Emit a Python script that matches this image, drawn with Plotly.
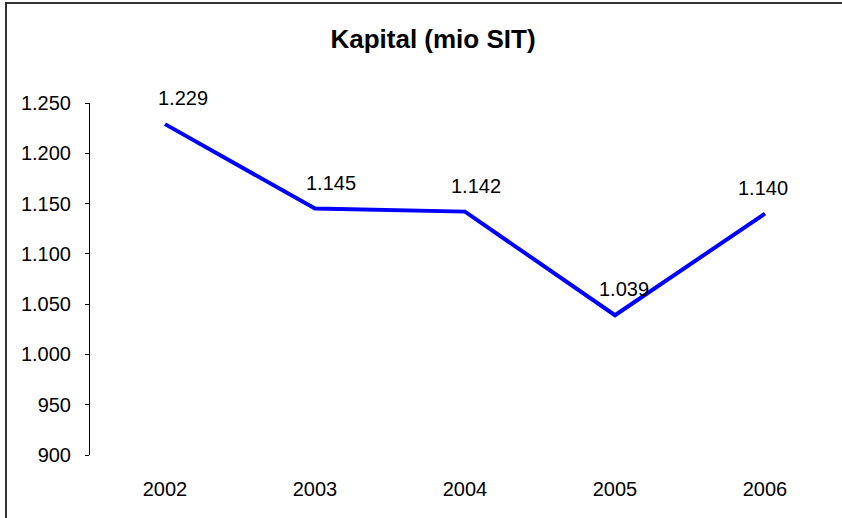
import plotly.graph_objects as go

years = ["2002", "2003", "2004", "2005", "2006"]
kapital = [1229, 1145, 1142, 1039, 1140]
y_ticks = [900, 950, 1000, 1050, 1100, 1150, 1200, 1250]
label_xshift = [18, 16, 11, 9, -2]

W, H = 842, 518
L, R, T, B = 90, 2, 103, 63
pw, ph = W - L - R, H - T - B
FONT = "Liberation Sans, Arial, sans-serif"

fig = go.Figure(go.Scatter(
    x=years, y=kapital, mode="lines",
    line=dict(color="#0000FF", width=4),
    hoverinfo="skip"))

for i, (v, dx) in enumerate(zip(kapital, label_xshift)):
    fig.add_annotation(x=i, y=v, text=f"{v:,}".replace(",", "."), showarrow=False,
                       xref="x", yref="y",
                       xanchor="center", yanchor="middle", xshift=dx, yshift=26,
                       font=dict(family=FONT, size=20, color="black"))

def px(x):
    return (x - L) / pw

def py(y):
    return (H - B - y) / ph

fig.update_layout(
    width=W, height=H, margin=dict(l=L, r=R, t=T, b=B),
    paper_bgcolor="white", plot_bgcolor="white", separators=",.",
    showlegend=False,
    font=dict(family=FONT, size=20, color="black"),
    title=dict(text="<b>Kapital (mio SIT)</b>", x=433 / W, xanchor="center",
               y=1 - 39 / H, yanchor="middle", yref="container", xref="container",
               font=dict(size=26, color="black")),
    xaxis=dict(type="category", range=[-0.5, 4.5], showline=False, showgrid=False,
               zeroline=False, ticks="", ticklabelstandoff=20),
    yaxis=dict(range=[900, 1250], tickvals=y_ticks, tickformat=",d", showgrid=False,
               zeroline=False, showline=True, linecolor="black", linewidth=1,
               ticks="outside", ticklen=4, tickcolor="black", ticklabelstandoff=10),
    shapes=[
        dict(type="line", xref="paper", yref="paper", x0=px(6), x1=px(6),
             y0=py(518), y1=py(3), line=dict(color="#333333", width=2)),
        dict(type="line", xref="paper", yref="paper", x0=px(5), x1=px(842),
             y0=py(3), y1=py(3), line=dict(color="#333333", width=2)),
    ],
)

fig.write_html("out.html", config={"displayModeBar": False},
               post_script="document.body.style.margin='0';document.body.style.overflow='hidden';")
